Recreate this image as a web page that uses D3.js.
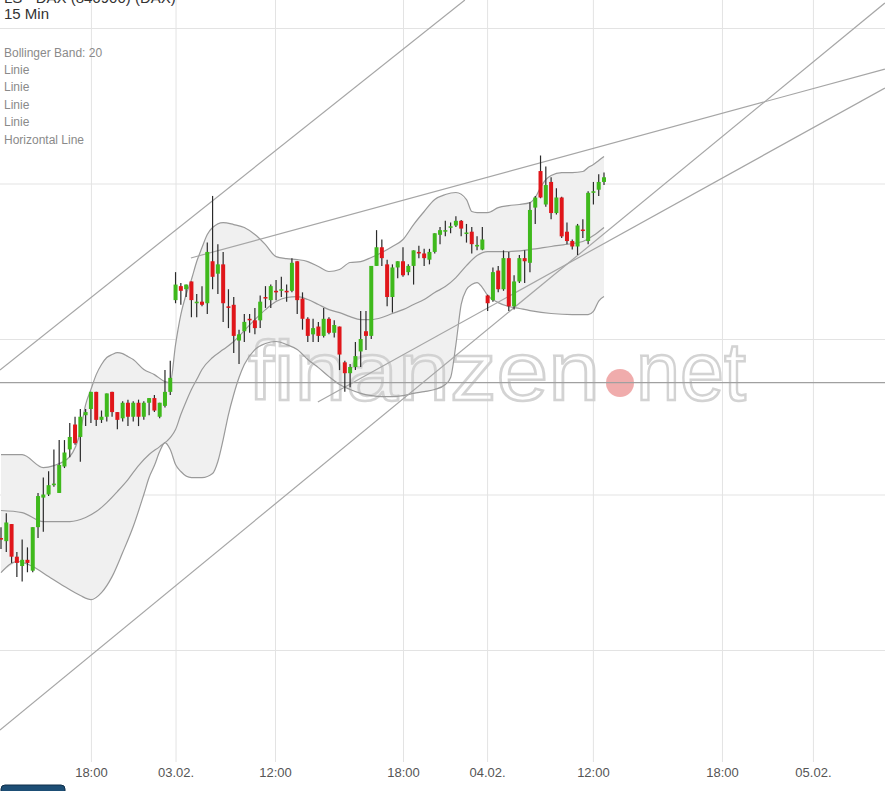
<!DOCTYPE html>
<html>
<head>
<meta charset="utf-8">
<script src="https://cdn.jsdelivr.net/npm/d3@7"></script>
<style>
  html, body { margin: 0; padding: 0; background: #fff; }
  svg { display: block; font-family: "Liberation Sans", Arial, sans-serif; }
</style>
</head>
<body>
<div id="chart"></div>
<script>
// 15 min candles, index = slot on the trading-time axis
// [open, high, low, close]
var candles = [
  [13772, 13779, 13765, 13771], [13770, 13788, 13763, 13782], [13781, 13781, 13756, 13760],
  [13760, 13763, 13747, 13756], [13754, 13771, 13744, 13758], [13758, 13766, 13750, 13756],
  [13751, 13779, 13750, 13779], [13779, 13801, 13772, 13799], [13798, 13811, 13776, 13800],
  [13800, 13815, 13799, 13806], [13806, 13829, 13805, 13807], [13801, 13835, 13801, 13819],
  [13818, 13835, 13817, 13827], [13829, 13846, 13824, 13837], [13845, 13850, 13832, 13833],
  [13837, 13855, 13821, 13850], [13851, 13855, 13844, 13853], [13855, 13866, 13846, 13866],
  [13866, 13866, 13844, 13848], [13848, 13854, 13846, 13850], [13850, 13865, 13847, 13865],
  [13866, 13866, 13850, 13853], [13853, 13853, 13842, 13848], [13849, 13860, 13847, 13859],
  [13859, 13861, 13844, 13850], [13850, 13860, 13847, 13859], [13859, 13861, 13844, 13850],
  [13850, 13860, 13848, 13859], [13859, 13862, 13851, 13862], [13862, 13864, 13853, 13854],
  [13850, 13859, 13849, 13859], [13857, 13880, 13856, 13866], [13866, 13886, 13864, 13875],
  // 03.02.
  [13925, 13943, 13923, 13935], [13934, 13936, 13922, 13931], [13932, 13935, 13927, 13935],
  [13937, 13937, 13914, 13925], [13923, 13929, 13914, 13924], [13924, 13934, 13921, 13922],
  [13923, 13962, 13916, 13956], [13950, 13992, 13932, 13940], [13942, 13961, 13929, 13948],
  [13948, 13956, 13911, 13923], [13921, 13932, 13907, 13920], [13922, 13927, 13891, 13902],
  [13899, 13906, 13884, 13903], [13905, 13916, 13898, 13911], [13913, 13916, 13904, 13912],
  [13912, 13920, 13903, 13907], [13912, 13928, 13907, 13924], [13927, 13934, 13920, 13926],
  [13925, 13935, 13920, 13934], [13931, 13938, 13925, 13930], [13931, 13940, 13927, 13932],
  [13931, 13935, 13924, 13930], [13931, 13952, 13930, 13949], [13950, 13950, 13916, 13925],
  [13926, 13930, 13906, 13913], [13913, 13914, 13898, 13902], [13903, 13913, 13898, 13907],
  [13908, 13911, 13898, 13902], [13902, 13920, 13901, 13913], [13913, 13914, 13903, 13904],
  [13904, 13912, 13901, 13909], [13908, 13908, 13880, 13890], [13885, 13886, 13866, 13878],
  [13878, 13884, 13869, 13882], [13882, 13898, 13880, 13889], [13892, 13918, 13882, 13900],
  [13905, 13918, 13893, 13902], [13902, 13947, 13900, 13947], [13947, 13970, 13947, 13959],
  [13959, 13964, 13947, 13952], [13948, 13951, 13921, 13927], [13927, 13948, 13917, 13946],
  [13946, 13950, 13939, 13950], [13950, 13959, 13940, 13941], [13943, 13948, 13941, 13947],
  [13947, 13957, 13935, 13957], [13956, 13960, 13952, 13955], [13955, 13958, 13947, 13952],
  [13951, 13958, 13948, 13956], [13956, 13968, 13955, 13968], [13967, 13972, 13961, 13970],
  [13969, 13976, 13966, 13970], [13971.5, 13975, 13968, 13972.5], [13973, 13979, 13972, 13976],
  [13976, 13976.5, 13966, 13971], [13967.8, 13974, 13962, 13968.5], [13969, 13972, 13955, 13961],
  [13959.5, 13966, 13957, 13960.5], [13957.5, 13972, 13957, 13964],
  // 04.02.
  [13928, 13928.5, 13918, 13923], [13925, 13946, 13924, 13943], [13944, 13947, 13930, 13932],
  [13932, 13957, 13931, 13952], [13952, 13956, 13918, 13921], [13921, 13941, 13919, 13937],
  [13937, 13954, 13936, 13952], [13952, 13957, 13936, 13950], [13949, 13988, 13943, 13983],
  [13984.5, 13992, 13974, 13991], [14008, 14018, 13990.5, 13991], [13986.5, 14011, 13985, 13999],
  [14001, 14004, 13977, 13981], [13981, 13997, 13980, 13991], [13991, 13991.5, 13965, 13966],
  [13969, 13975, 13961, 13963], [13963, 13964, 13957.5, 13959.5], [13959.5, 13974, 13954, 13973],
  [13970.4, 13977, 13965, 13969.8], [13963, 13995, 13961, 13994], [13994, 14001, 13986.5, 13995],
  [13996, 14006, 13992, 14001], [14001, 14007, 13999, 14004]
]

// Bollinger Band (20): [slot, value]
var bbUpper = [
  [0, 13825.7], [4, 13825.7], [8, 13817.3], [10, 13818.6], [13, 13824.4], [15, 13840.5],
  [16, 13857.8], [17, 13867.5], [18, 13877.1], [19, 13883.6], [20, 13888.1], [21, 13890],
  [22, 13891.3], [23, 13890.6], [24, 13888.7], [25, 13886.8], [27, 13880.4], [29, 13877.1],
  [31, 13872.6], [32, 13872], [33, 13896.4], [34, 13915.7], [35, 13928.6], [36, 13938.2],
  [37, 13949.8], [38, 13958.8], [39, 13967.2], [40, 13971.7], [42, 13974.9], [44, 13973.6],
  [46, 13971.7], [48, 13967.2], [50, 13960.7], [52, 13953], [54, 13951.7], [56, 13951.1],
  [58, 13949.8], [60, 13946.6], [62, 13943.4], [64, 13944.7], [66, 13949.2], [68, 13949.8],
  [70, 13952.4], [72, 13955.6], [74, 13959.5], [76, 13964], [78, 13973.6], [80, 13982],
  [82, 13989.7], [84, 13992.9], [86, 13994.2], [88, 13989.7], [89, 13982], [90, 13981.3],
  [92, 13981.3], [94, 13984.5], [96, 13985.8], [98, 13986.5], [100, 13987.7], [101, 13991],
  [102, 13997.4], [103, 14002.5], [104, 14005.1], [106, 14007], [108, 14007], [110, 14007.7],
  [111, 14010.3], [112, 14012.2], [113, 14014.8], [114, 14017.3]
]
var bbMiddle = [
  [0, 13789.7], [4, 13788.4], [8, 13782.6], [13, 13782.6], [16, 13785.2], [18, 13789],
  [20, 13794.8], [22, 13801.9], [24, 13809.6], [26, 13818.6], [28, 13825.7], [30, 13830.8],
  [32, 13836.6], [33, 13841.8], [34, 13851.4], [35, 13859.8], [36, 13867.5], [37, 13873.9],
  [38, 13880.4], [40, 13888.1], [42, 13893.2], [44, 13898.4], [46, 13905.4], [48, 13912.5],
  [50, 13918.9], [52, 13924.1], [54, 13926.7], [56, 13927.3], [58, 13925.4], [60, 13922.2],
  [62, 13918.9], [64, 13917], [66, 13914.4], [68, 13912.5], [70, 13912.5], [72, 13913.8],
  [74, 13916.4], [76, 13918.9], [78, 13922.2], [80, 13925.4], [82, 13929.9], [84, 13933.7],
  [86, 13939.5], [88, 13947.2], [90, 13953.7], [92, 13956.2], [96, 13956.2], [100, 13957.5],
  [104, 13959.5], [108, 13961.4], [110, 13962.7], [112, 13966.5], [114, 13971.7]
]
var bbLower = [
  [0, 13749.8], [3, 13756.9], [6, 13753.7], [9, 13747.2], [12, 13740.8], [15, 13735],
  [17, 13732.4], [19, 13736.9], [21, 13747.2], [23, 13762.7], [25, 13779.4], [27, 13800],
  [28, 13810.9], [29, 13818.6], [30, 13827.6], [31, 13833.4], [32, 13828.9], [33, 13819.3],
  [34, 13814.8], [36, 13810.9], [38, 13810.9], [40, 13813.5], [41, 13821.2], [42, 13835.3],
  [43, 13851.4], [44, 13864.3], [45, 13875.2], [46, 13883.6], [48, 13893.2], [50, 13897.1],
  [52, 13898.4], [54, 13896.4], [56, 13893.2], [58, 13886.8], [60, 13881.6], [62, 13875.8],
  [64, 13870.7], [66, 13867.5], [68, 13865], [70, 13863.6], [72, 13863], [74, 13863],
  [76, 13863.6], [78, 13865], [80, 13866.2], [82, 13867.5], [84, 13870.7], [85, 13875.2],
  [86, 13896.4], [87, 13922.2], [88, 13931.8], [89, 13935], [90, 13936.3], [91, 13933.1],
  [92, 13928], [94, 13923.4], [96, 13920.9], [98, 13919.6], [100, 13918.3], [104, 13916.4],
  [108, 13915.7], [111, 13915.7], [112, 13917.7], [113, 13924.4], [114, 13927.3]
]

// drawn trend lines ("Linie"): start and end as [slot, value]
var trendLines = [
  [[-0.2, 13880.1], [87.7, 14118]],
  [[35.9, 13952.1], [167.1, 14073.6]],
  [[-0.2, 13648.5], [167.1, 14116.1]],
  [[59.9, 13859.5], [167.1, 14061.4]]
]
var horizontalLine = 13872

var xTickPos = [17, 33, 51.8, 76, 91.9, 111.9, 136.3, 153.5]
var xTickLabels = ["18:00", "03.02.", "12:00", "18:00", "04.02.", "12:00", "18:00", "05.02."]
var yGrid = [13700, 13800, 13900, 14000, 14100]

var legendItems = ["Bollinger Band: 20", "Linie", "Linie", "Linie", "Linie", "Horizontal Line"]

var W = 885, H = 791, plotBottom = 762

var svg = d3.select("#chart").append("svg")
  .attr("width", W).attr("height", H)

svg.append("defs").append("clipPath").attr("id", "plotclip")
  .append("rect").attr("x", 0).attr("y", 0).attr("width", W).attr("height", plotBottom)

var x = d3.scaleLinear().domain([0, 114]).range([1, 604])
var y = d3.scaleLinear().domain([13700, 14100]).range([650, 28])

// grid
svg.append("g")
  .attr("class", "ygrid")
  .call(d3.axisRight(y).tickValues(yGrid).tickSize(W).tickFormat(""))
  .call(g => g.select(".domain").remove())
  .call(g => g.selectAll("line").attr("stroke", "#e3e3e3"))

var xAxis = svg.append("g")
  .attr("transform", `translate(0,${plotBottom})`)
  .call(d3.axisBottom(x).tickValues(xTickPos)
    .tickFormat((d, k) => xTickLabels[k])
    .tickSizeInner(-plotBottom).tickSizeOuter(0).tickPadding(6))
xAxis.select(".domain").remove()
xAxis.selectAll("line").attr("stroke", "#e3e3e3")
xAxis.selectAll("text")
  .attr("fill", "#555")
  .style("font-size", "13px")
  .style("font-family", "'Liberation Sans', Arial, sans-serif")

var plot = svg.append("g").attr("clip-path", "url(#plotclip)")

// band fill
var pt = d => [x(d[0]), y(d[1])]
var fillPts = bbUpper.map(pt).concat(bbLower.slice().reverse().map(pt))
plot.append("path")
  .attr("d", d3.line().curve(d3.curveLinear)(fillPts) + "Z")
  .attr("fill", "#f0f0f0")

// watermark
var wm = plot.append("g").attr("opacity", 0.9)
wm.append("text")
  .attr("x", 248).attr("y", 400)
  .attr("textLength", 352).attr("lengthAdjust", "spacingAndGlyphs")
  .style("font-size", "84px")
  .attr("fill", "#ffffff").attr("fill-opacity", 0.35)
  .attr("stroke", "#cfcfcf").attr("stroke-width", 2.5)
  .text("finanzen")
wm.append("circle")
  .attr("cx", 620).attr("cy", 383).attr("r", 14)
  .attr("fill", "#e98585").attr("fill-opacity", 0.75)
wm.append("text")
  .attr("x", 636).attr("y", 400)
  .attr("textLength", 110).attr("lengthAdjust", "spacingAndGlyphs")
  .style("font-size", "84px")
  .attr("fill", "#ffffff").attr("fill-opacity", 0.35)
  .attr("stroke", "#cfcfcf").attr("stroke-width", 2.5)
  .text("net")

// band lines
var bandLine = d3.line().x(d => x(d[0])).y(d => y(d[1])).curve(d3.curveMonotoneX)
;[bbUpper, bbMiddle, bbLower].forEach(function(b) {
  plot.append("path")
    .attr("d", bandLine(b))
    .attr("fill", "none")
    .attr("stroke", "#9a9a9a")
    .attr("stroke-width", 1.2)
})

// horizontal line
plot.append("line")
  .attr("x1", 0).attr("x2", W)
  .attr("y1", y(horizontalLine)).attr("y2", y(horizontalLine))
  .attr("stroke", "#a0a0a0").attr("stroke-width", 1.3)

// trend lines
plot.selectAll(".trend")
  .data(trendLines)
  .enter().append("line")
  .attr("class", "trend")
  .attr("x1", d => x(d[0][0])).attr("y1", d => y(d[0][1]))
  .attr("x2", d => x(d[1][0])).attr("y2", d => y(d[1][1]))
  .attr("stroke", "#a6a6a6").attr("stroke-width", 1.2)

// candles
var candle = plot.append("g").selectAll("g")
  .data(candles)
  .enter().append("g")

candle.append("line")
  .attr("x1", (d, i) => x(i)).attr("x2", (d, i) => x(i))
  .attr("y1", d => y(d[1])).attr("y2", d => y(d[2]))
  .attr("stroke", "#2a2a2a").attr("stroke-width", 1.2)

candle.append("rect")
  .attr("x", (d, i) => x(i) - 2)
  .attr("width", 4)
  .attr("y", d => y(Math.max(d[0], d[3])))
  .attr("height", d => Math.max(1.5, Math.abs(y(d[0]) - y(d[3]))))
  .attr("fill", d => d[3] >= d[0] ? "#3fb91c" : "#e0161a")

// title + legend
svg.append("text").attr("x", 4).attr("y", 3)
  .attr("fill", "#333").style("font-size", "15px")
  .text("LS - DAX (846900) (DAX)")
svg.append("text").attr("x", 4).attr("y", 19)
  .attr("fill", "#333").style("font-size", "15px")
  .text("15 Min")

svg.append("g").selectAll("text")
  .data(legendItems)
  .enter().append("text")
  .attr("x", 4)
  .attr("y", (d, i) => 56.5 + i * 17.4)
  .attr("fill", "#8a8a8a")
  .style("font-size", "12px")
  .text(d => d)

// bottom-left button stub
svg.append("rect")
  .attr("x", 1).attr("y", 785).attr("width", 64).attr("height", 12)
  .attr("rx", 4)
  .attr("fill", "#1d4e75").attr("stroke", "#0e2f4a")
</script>
</body>
</html>
